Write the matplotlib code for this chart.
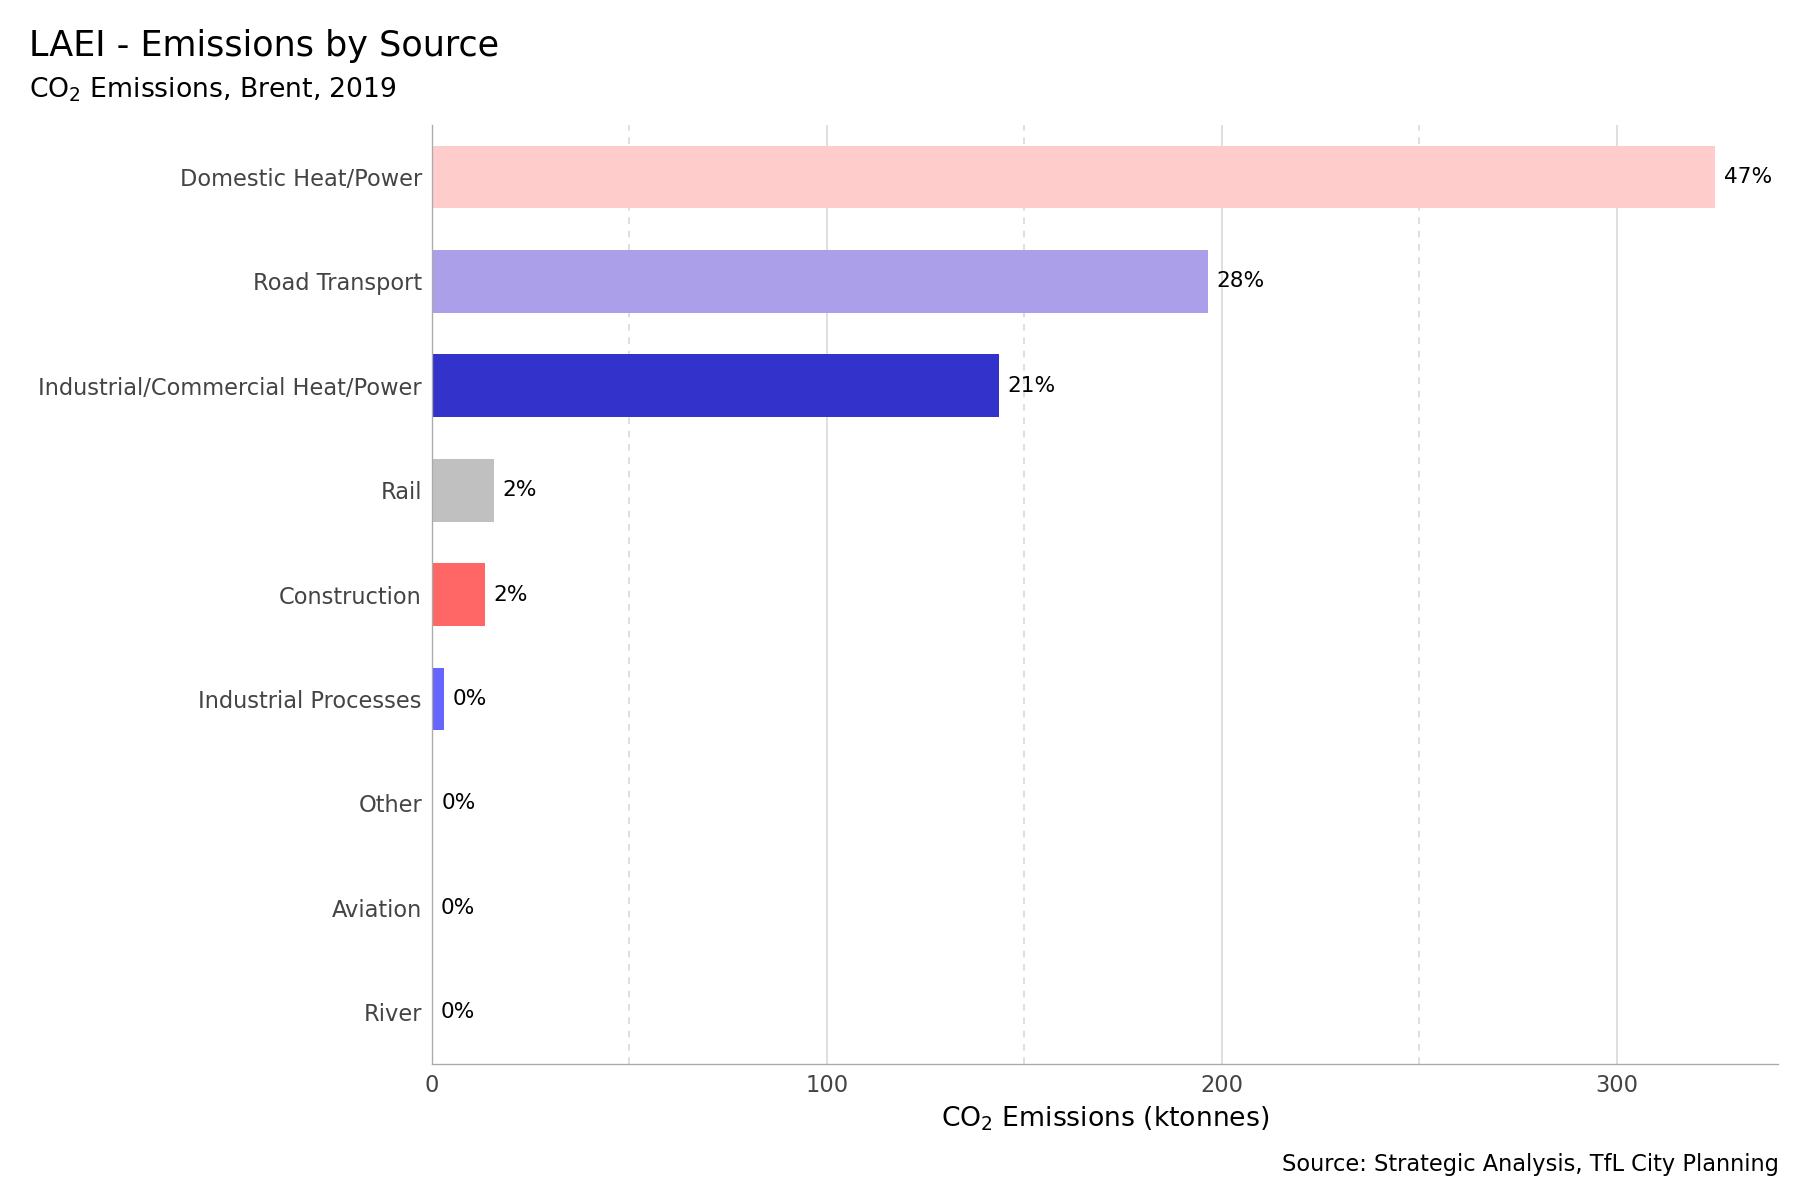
import matplotlib.pyplot as plt

categories = ["Domestic Heat/Power", "Road Transport", "Industrial/Commercial Heat/Power",
              "Rail", "Construction", "Industrial Processes", "Other", "Aviation", "River"]
values = [325.0, 196.5, 143.6, 15.7, 13.4, 3.0, 0.2, 0.1, 0.05]
labels = ["47%", "28%", "21%", "2%", "2%", "0%", "0%", "0%", "0%"]
colors = ["#ffcccc", "#aa9fe8", "#3333cc", "#c0c0c0", "#ff6666", "#6666ff",
          "#ffcccc", "#aa9fe8", "#3333cc"]

fig = plt.figure(figsize=(15, 10), dpi=120)
ax = fig.add_axes([0.24, 0.113, 0.748, 0.783])

y = list(range(len(categories)))[::-1]
ax.barh(y, values, height=0.6, color=colors, zorder=2)
for yi, v, lab in zip(y, values, labels):
    ax.text(v + 2.2, yi, lab, va="center", ha="left", fontsize=13, color="black")

ax.set_xlim(0, 341)
ax.set_ylim(-0.5, len(categories) - 0.5)
ax.set_yticks(y)
ax.set_yticklabels(categories, fontsize=13.5, color="#444444")
ax.set_xticks([0, 100, 200, 300])
ax.set_xticks([50, 150, 250], minor=True)
ax.tick_params(axis="x", which="both", length=0, labelsize=13.5, labelcolor="#444444", pad=6)
ax.tick_params(axis="y", length=0, pad=6)
ax.grid(axis="x", which="major", color="#d9d9d9", lw=1, zorder=0)
ax.grid(axis="x", which="minor", color="#d9d9d9", lw=1, ls=(0, (4, 4)), zorder=0)
for s in ["top", "right"]:
    ax.spines[s].set_visible(False)
for s in ["left", "bottom"]:
    ax.spines[s].set_color("#aaaaaa")
ax.set_xlabel("CO$_2$ Emissions (ktonnes)", fontsize=16, labelpad=4)

fig.text(0.016, 0.962, "LAEI - Emissions by Source", fontsize=21, va="center")
fig.text(0.016, 0.925, "CO$_2$ Emissions, Brent, 2019", fontsize=16, va="center")
fig.text(0.988, 0.03, "Source: Strategic Analysis, TfL City Planning", fontsize=13.5,
         ha="right", va="center")

fig.savefig("out.png", dpi=120)
